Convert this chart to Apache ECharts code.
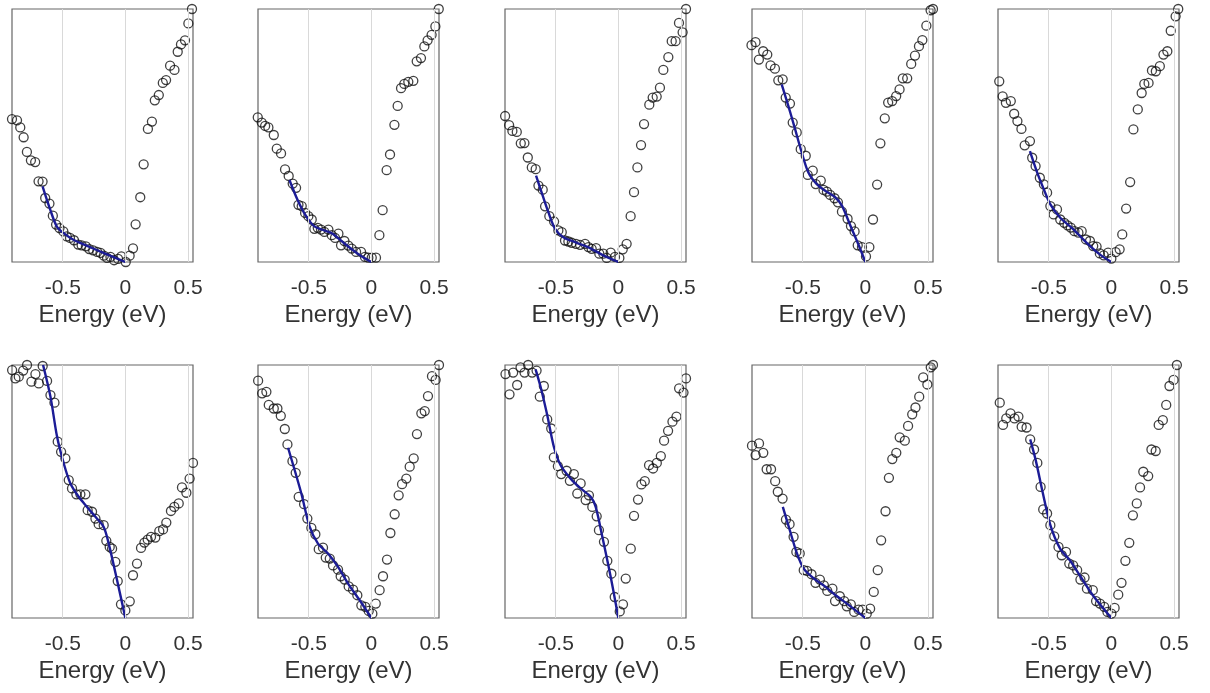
<!DOCTYPE html>
<html>
<head>
<meta charset="utf-8">
<script src="https://cdn.jsdelivr.net/npm/echarts@6/dist/echarts.min.js"></script>
<style>
  html, body { margin: 0; padding: 0; background: #fff; }
  #chart { width: 1210px; height: 693px; }
</style>
</head>
<body>
<div id="chart"></div>
<script>
// measured spectra (energy in eV, normalised intensity) and fitted curves, one pair per panel
const data1 = [[-0.905,0.565],[-0.865,0.56],[-0.839,0.532],[-0.812,0.493],[-0.786,0.435],[-0.754,0.402],[-0.72,0.395],[-0.693,0.319],[-0.661,0.318],[-0.64,0.253],[-0.606,0.231],[-0.579,0.183],[-0.553,0.148],[-0.526,0.134],[-0.495,0.121],[-0.468,0.101],[-0.442,0.095],[-0.41,0.086],[-0.376,0.069],[-0.349,0.066],[-0.315,0.062],[-0.288,0.051],[-0.257,0.046],[-0.225,0.04],[-0.198,0.036],[-0.172,0.025],[-0.146,0.016],[-0.119,0.02],[-0.09,0.007],[-0.058,0.012],[-0.032,0.022],[0.003,0.0],[0.034,0.025],[0.061,0.054],[0.082,0.149],[0.119,0.256],[0.146,0.386],[0.18,0.526],[0.212,0.555],[0.235,0.639],[0.267,0.66],[0.299,0.708],[0.325,0.719],[0.357,0.776],[0.392,0.759],[0.418,0.831],[0.444,0.86],[0.476,0.876],[0.503,0.943],[0.532,1.0]];
const fit1 = [[-0.661,0.299],[-0.6,0.207],[-0.548,0.141],[-0.495,0.115],[-0.415,0.088],[-0.31,0.065],[-0.204,0.042],[-0.098,0.02],[0,0]];

const data2 = [[-0.907,0.572],[-0.875,0.551],[-0.848,0.538],[-0.822,0.532],[-0.779,0.502],[-0.755,0.448],[-0.721,0.429],[-0.689,0.366],[-0.66,0.34],[-0.628,0.31],[-0.601,0.293],[-0.582,0.226],[-0.556,0.221],[-0.529,0.194],[-0.503,0.181],[-0.476,0.168],[-0.455,0.131],[-0.428,0.135],[-0.402,0.128],[-0.375,0.119],[-0.343,0.128],[-0.316,0.106],[-0.29,0.095],[-0.263,0.112],[-0.242,0.066],[-0.215,0.083],[-0.184,0.065],[-0.157,0.053],[-0.122,0.04],[-0.082,0.04],[-0.051,0.02],[-0.024,0.017],[0.003,0.017],[0.037,0.017],[0.064,0.106],[0.09,0.205],[0.122,0.363],[0.149,0.425],[0.184,0.542],[0.21,0.617],[0.237,0.687],[0.263,0.704],[0.295,0.712],[0.335,0.716],[0.362,0.793],[0.396,0.806],[0.423,0.852],[0.449,0.876],[0.481,0.898],[0.511,0.931],[0.538,1.0]];
const fit2 = [[-0.654,0.324],[-0.588,0.244],[-0.521,0.181],[-0.455,0.141],[-0.375,0.125],[-0.309,0.112],[-0.215,0.073],[-0.109,0.033],[0,0]];

const data3 = [[-0.904,0.577],[-0.872,0.541],[-0.846,0.518],[-0.811,0.514],[-0.779,0.469],[-0.75,0.47],[-0.723,0.413],[-0.691,0.374],[-0.66,0.367],[-0.638,0.302],[-0.604,0.286],[-0.585,0.22],[-0.551,0.181],[-0.513,0.16],[-0.479,0.125],[-0.452,0.118],[-0.426,0.085],[-0.399,0.081],[-0.372,0.076],[-0.338,0.072],[-0.306,0.068],[-0.266,0.072],[-0.239,0.059],[-0.213,0.052],[-0.178,0.055],[-0.152,0.033],[-0.12,0.033],[-0.093,0.016],[-0.061,0.037],[-0.027,0.02],[0.008,0.016],[0.035,0.05],[0.066,0.072],[0.098,0.181],[0.125,0.276],[0.152,0.374],[0.181,0.462],[0.205,0.545],[0.247,0.622],[0.274,0.65],[0.306,0.654],[0.332,0.689],[0.359,0.759],[0.399,0.81],[0.426,0.873],[0.457,0.873],[0.484,0.945],[0.513,0.908],[0.54,1.0]];
const fit3 = [[-0.657,0.341],[-0.604,0.262],[-0.559,0.197],[-0.505,0.131],[-0.439,0.098],[-0.332,0.076],[-0.226,0.055],[-0.12,0.026],[0,0]];

const data4 = [[-0.909,0.857],[-0.877,0.869],[-0.85,0.8],[-0.816,0.833],[-0.783,0.82],[-0.757,0.777],[-0.722,0.764],[-0.695,0.718],[-0.66,0.722],[-0.636,0.65],[-0.602,0.626],[-0.58,0.551],[-0.548,0.512],[-0.516,0.446],[-0.476,0.42],[-0.46,0.344],[-0.42,0.361],[-0.396,0.308],[-0.356,0.322],[-0.334,0.285],[-0.307,0.278],[-0.281,0.265],[-0.246,0.252],[-0.219,0.236],[-0.187,0.199],[-0.142,0.171],[-0.115,0.142],[-0.086,0.121],[-0.061,0.066],[-0.027,0.059],[0.005,0.022],[0.032,0.059],[0.061,0.168],[0.094,0.306],[0.12,0.469],[0.155,0.568],[0.182,0.63],[0.214,0.636],[0.246,0.656],[0.273,0.682],[0.299,0.726],[0.334,0.726],[0.366,0.783],[0.396,0.816],[0.428,0.853],[0.455,0.877],[0.487,0.934],[0.521,0.995],[0.54,1.0]];
const fit4 = [[-0.668,0.702],[-0.615,0.617],[-0.561,0.525],[-0.508,0.433],[-0.455,0.354],[-0.388,0.308],[-0.321,0.282],[-0.241,0.256],[-0.187,0.223],[-0.12,0.144],[-0.053,0.066],[0,0]];

const data5 = [[-0.895,0.714],[-0.868,0.655],[-0.842,0.629],[-0.803,0.636],[-0.776,0.586],[-0.75,0.557],[-0.718,0.526],[-0.692,0.461],[-0.65,0.478],[-0.632,0.412],[-0.605,0.379],[-0.571,0.333],[-0.539,0.307],[-0.513,0.274],[-0.487,0.221],[-0.461,0.188],[-0.434,0.208],[-0.408,0.168],[-0.376,0.155],[-0.35,0.145],[-0.324,0.136],[-0.295,0.122],[-0.263,0.116],[-0.237,0.122],[-0.203,0.089],[-0.171,0.083],[-0.145,0.063],[-0.118,0.061],[-0.092,0.034],[-0.061,0.026],[-0.026,0.037],[0.0,0.013],[0.034,0.039],[0.066,0.05],[0.087,0.109],[0.118,0.211],[0.15,0.316],[0.176,0.524],[0.211,0.603],[0.242,0.668],[0.263,0.704],[0.297,0.708],[0.324,0.757],[0.355,0.754],[0.387,0.774],[0.416,0.82],[0.447,0.833],[0.474,0.914],[0.513,0.971],[0.534,1.0]];
const fit5 = [[-0.65,0.438],[-0.592,0.353],[-0.539,0.287],[-0.487,0.228],[-0.408,0.175],[-0.303,0.129],[-0.197,0.076],[-0.092,0.03],[0,0]];

const data6 = [[-0.904,0.98],[-0.878,0.947],[-0.851,0.954],[-0.816,0.978],[-0.785,1.0],[-0.75,0.934],[-0.718,0.964],[-0.691,0.927],[-0.66,0.996],[-0.625,0.937],[-0.598,0.881],[-0.566,0.851],[-0.54,0.697],[-0.513,0.657],[-0.479,0.631],[-0.452,0.545],[-0.426,0.512],[-0.391,0.489],[-0.359,0.489],[-0.319,0.489],[-0.301,0.426],[-0.266,0.42],[-0.239,0.393],[-0.213,0.371],[-0.173,0.367],[-0.152,0.305],[-0.125,0.281],[-0.106,0.274],[-0.08,0.222],[-0.061,0.146],[-0.035,0.054],[0.0,0.03],[0.035,0.066],[0.061,0.169],[0.093,0.215],[0.125,0.277],[0.152,0.298],[0.178,0.31],[0.205,0.321],[0.239,0.318],[0.271,0.343],[0.301,0.35],[0.327,0.377],[0.364,0.423],[0.391,0.439],[0.426,0.453],[0.452,0.516],[0.487,0.495],[0.513,0.551],[0.54,0.613]];
const fit6 = [[-0.657,1.0],[-0.598,0.875],[-0.545,0.716],[-0.492,0.611],[-0.439,0.532],[-0.372,0.479],[-0.306,0.439],[-0.239,0.4],[-0.173,0.36],[-0.133,0.294],[-0.066,0.149],[0,0]];

const data7 = [[-0.904,0.938],[-0.872,0.888],[-0.838,0.894],[-0.819,0.842],[-0.779,0.828],[-0.75,0.828],[-0.723,0.799],[-0.691,0.747],[-0.67,0.686],[-0.63,0.62],[-0.604,0.574],[-0.58,0.479],[-0.537,0.45],[-0.511,0.393],[-0.479,0.356],[-0.447,0.331],[-0.42,0.272],[-0.386,0.278],[-0.364,0.239],[-0.332,0.235],[-0.306,0.208],[-0.266,0.191],[-0.245,0.165],[-0.213,0.152],[-0.181,0.125],[-0.146,0.112],[-0.112,0.09],[-0.08,0.05],[-0.048,0.044],[-0.021,0.028],[0.008,0.017],[0.035,0.057],[0.066,0.11],[0.093,0.165],[0.125,0.231],[0.152,0.336],[0.186,0.41],[0.218,0.485],[0.245,0.529],[0.279,0.551],[0.306,0.598],[0.338,0.631],[0.364,0.727],[0.399,0.809],[0.426,0.818],[0.452,0.877],[0.484,0.956],[0.513,0.941],[0.54,1.0]];
const fit7 = [[-0.665,0.673],[-0.612,0.584],[-0.559,0.492],[-0.492,0.36],[-0.426,0.294],[-0.346,0.255],[-0.266,0.202],[-0.186,0.136],[-0.093,0.07],[0,0]];

const data8 = [[-0.901,0.964],[-0.869,0.884],[-0.84,0.97],[-0.808,0.921],[-0.781,0.991],[-0.749,0.97],[-0.72,1.0],[-0.688,0.97],[-0.653,0.978],[-0.627,0.875],[-0.595,0.917],[-0.568,0.785],[-0.536,0.749],[-0.515,0.635],[-0.483,0.6],[-0.456,0.569],[-0.413,0.582],[-0.387,0.542],[-0.355,0.569],[-0.328,0.492],[-0.301,0.532],[-0.261,0.466],[-0.235,0.485],[-0.208,0.439],[-0.173,0.402],[-0.155,0.347],[-0.115,0.301],[-0.088,0.226],[-0.056,0.175],[-0.029,0.083],[0.011,0.026],[0.037,0.054],[0.059,0.156],[0.099,0.274],[0.125,0.404],[0.157,0.468],[0.184,0.528],[0.211,0.541],[0.245,0.604],[0.277,0.591],[0.307,0.613],[0.339,0.64],[0.365,0.701],[0.397,0.74],[0.432,0.776],[0.464,0.796],[0.485,0.908],[0.52,0.891],[0.54,0.947]];
const fit8 = [[-0.661,0.983],[-0.621,0.914],[-0.568,0.802],[-0.515,0.677],[-0.461,0.604],[-0.381,0.551],[-0.301,0.512],[-0.221,0.479],[-0.181,0.439],[-0.128,0.321],[-0.061,0.162],[0,0]];

const data9 = [[-0.905,0.681],[-0.876,0.644],[-0.849,0.69],[-0.815,0.653],[-0.788,0.588],[-0.753,0.588],[-0.72,0.541],[-0.699,0.499],[-0.661,0.472],[-0.634,0.389],[-0.605,0.371],[-0.573,0.321],[-0.551,0.261],[-0.524,0.255],[-0.492,0.189],[-0.465,0.186],[-0.43,0.173],[-0.398,0.139],[-0.363,0.152],[-0.331,0.129],[-0.304,0.107],[-0.263,0.116],[-0.242,0.067],[-0.204,0.086],[-0.169,0.067],[-0.148,0.046],[-0.116,0.054],[-0.089,0.024],[-0.054,0.033],[-0.022,0.033],[0.011,0.017],[0.038,0.037],[0.067,0.103],[0.099,0.189],[0.126,0.307],[0.161,0.422],[0.188,0.554],[0.215,0.628],[0.247,0.653],[0.274,0.714],[0.315,0.701],[0.341,0.759],[0.374,0.805],[0.4,0.832],[0.43,0.875],[0.462,0.951],[0.495,0.923],[0.522,0.991],[0.54,1.0]];
const fit9 = [[-0.659,0.439],[-0.599,0.34],[-0.546,0.255],[-0.492,0.195],[-0.411,0.156],[-0.317,0.123],[-0.237,0.09],[-0.129,0.05],[0,0]];

const data10 = [[-0.891,0.851],[-0.865,0.763],[-0.839,0.789],[-0.805,0.809],[-0.773,0.789],[-0.742,0.796],[-0.716,0.756],[-0.677,0.753],[-0.648,0.706],[-0.617,0.666],[-0.591,0.613],[-0.565,0.518],[-0.544,0.429],[-0.513,0.413],[-0.487,0.367],[-0.456,0.323],[-0.422,0.281],[-0.396,0.248],[-0.362,0.261],[-0.336,0.215],[-0.305,0.208],[-0.273,0.189],[-0.247,0.152],[-0.214,0.16],[-0.195,0.116],[-0.148,0.11],[-0.122,0.067],[-0.091,0.057],[-0.057,0.044],[-0.031,0.024],[0.0,0.017],[0.026,0.04],[0.055,0.092],[0.081,0.139],[0.112,0.226],[0.143,0.297],[0.172,0.406],[0.203,0.453],[0.229,0.516],[0.255,0.578],[0.294,0.561],[0.32,0.666],[0.354,0.66],[0.378,0.763],[0.411,0.782],[0.438,0.842],[0.464,0.917],[0.497,0.941],[0.523,1.0]];
const fit10 = [[-0.648,0.706],[-0.604,0.624],[-0.552,0.505],[-0.487,0.367],[-0.409,0.274],[-0.331,0.228],[-0.253,0.169],[-0.148,0.09],[0,0]];

const energyTicks = [-0.5, 0, 0.5]
const xLabel = 'Energy (eV)'

const panels = [
  [data1, fit1], [data2, fit2], [data3, fit3], [data4, fit4], [data5, fit5],
  [data6, fit6], [data7, fit7], [data8, fit8], [data9, fit9], [data10, fit10]
]

const lefts = [12, 258, 505, 752, 998]
const tops = [9, 365]
const font = 'Liberation Sans, Arial, sans-serif'

const grid = [], xAxis = [], yAxis = [], series = []
panels.forEach(([pts, fit], i) => {
  grid.push({
    left: lefts[i % 5], top: tops[Math.floor(i / 5)], width: 181, height: 253,
    show: true, borderColor: '#666', borderWidth: 1.2, backgroundColor: '#fff'
  })
  xAxis.push({
    type: 'value', gridIndex: i, min: -0.905, max: 0.54,
    axisLine: { show: false },
    axisTick: { show: true, inside: true, length: 4, customValues: energyTicks, lineStyle: { color: '#666' } },
    axisLabel: { customValues: energyTicks, color: '#333', fontSize: 21, fontFamily: font, margin: 16 },
    splitLine: { show: false },
    name: xLabel, nameLocation: 'middle', nameGap: 41,
    nameTextStyle: { color: '#333', fontSize: 24, fontFamily: font }
  })
  yAxis.push({
    type: 'value', gridIndex: i, min: 0, max: 1,
    axisLine: { show: false }, axisTick: { show: false }, axisLabel: { show: false }, splitLine: { show: false }
  })
  series.push({
    type: 'scatter', xAxisIndex: i, yAxisIndex: i, data: pts, clip: false,
    symbol: 'circle', symbolSize: 9,
    itemStyle: { color: 'rgba(0,0,0,0)', borderColor: '#111', borderWidth: 1.3 },
    markLine: {
      silent: true, symbol: 'none', label: { show: false },
      lineStyle: { color: '#d9d9d9', type: 'solid', width: 1 },
      data: energyTicks.map(v => ({ xAxis: v }))
    },
    z: 2
  })
  series.push({
    type: 'line', xAxisIndex: i, yAxisIndex: i, data: fit, clip: false,
    showSymbol: false, smooth: 0.3,
    lineStyle: { color: '#1c1c96', width: 2.4 },
    z: 3
  })
})

const chart = echarts.init(document.getElementById('chart'))
chart.setOption({ animation: false, grid, xAxis, yAxis, series })
</script>
</body>
</html>
